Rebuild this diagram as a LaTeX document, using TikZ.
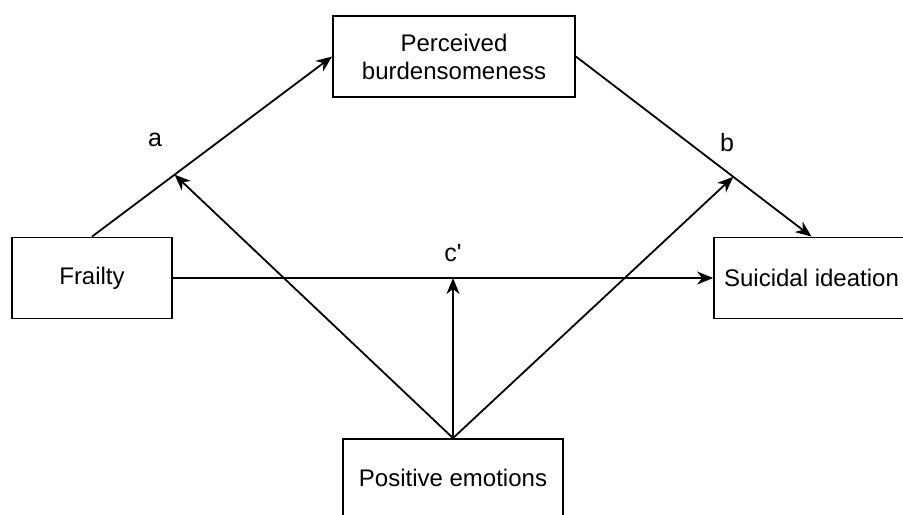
\documentclass[tikz,border=0pt]{standalone}
\usepackage{fontspec}
\setmainfont{Liberation Sans}
\usetikzlibrary{arrows.meta}

\begin{document}
\begin{tikzpicture}[
    x=0.5pt, y=-0.5pt,
    box/.style={draw, line width=0.9pt, align=center, inner sep=2pt, font=\fontsize{12}{14}\selectfont},
    path label/.style={font=\fontsize{12.5}{14}\selectfont},
    arrow/.style={draw, line width=0.9pt, -{Stealth[length=8pt, width=6.5pt, inset=2.5pt]}}
]
    \useasboundingbox (0,0) rectangle (903,514);

    \node[box, minimum width=121pt, minimum height=40.5pt] (pb) at (454,56.5) {Perceived\\burdensomeness};
    \node[box, minimum width=80pt, minimum height=40.5pt] (frailty) at (92,278) {Frailty};
    \node[box, minimum width=97.5pt, minimum height=40.5pt] (si) at (811.5,278) {Suicidal ideation};
    \node[box, minimum width=110pt, minimum height=39pt] (pe) at (453,478) {Positive emotions};

    \draw[arrow] (frailty.north) -- (pb.west) coordinate[pos=0.344] (ma);
    \draw[arrow] (pb.east) -- (si.north) coordinate[pos=0.668] (mb);
    \draw[arrow] (frailty.east) -- (si.west);
    \coordinate (mc) at (pe.north |- frailty.east);

    \foreach \m in {ma,mb,mc} {
        \draw[arrow] (pe.north) -- (\m);
    }

    \node[path label] (la) at (155,140) {a};
    \node[path label] (lb) at (727,143) {b};
    \node[path label] (lc) at (453,253) {c\textquotesingle};

\end{tikzpicture}
\end{document}
